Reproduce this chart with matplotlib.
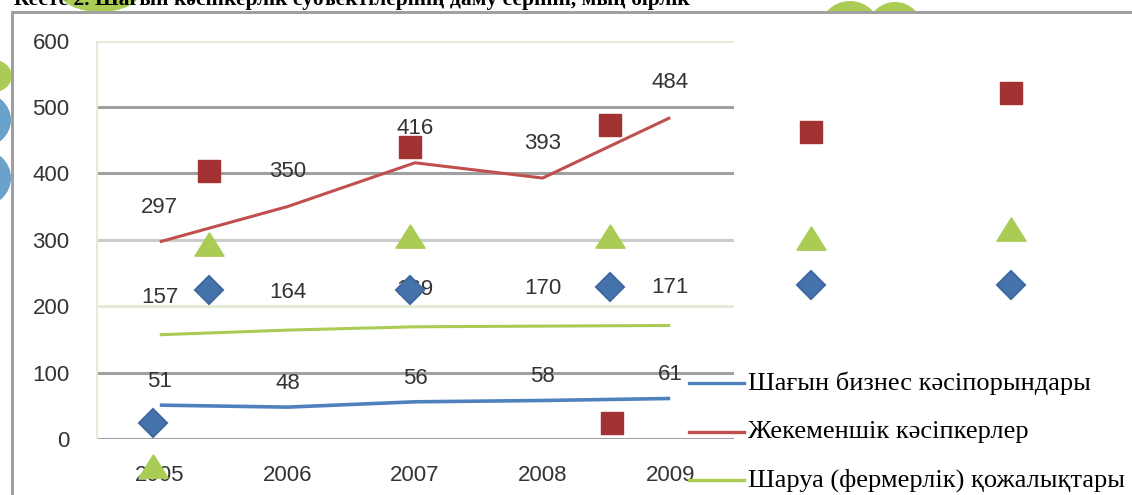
import matplotlib
matplotlib.use("Agg")
import matplotlib.pyplot as plt
from matplotlib.patches import Rectangle, Ellipse
from matplotlib.lines import Line2D

# ---------------- data ----------------
years = ["2005", "2006", "2007", "2008", "2009"]
small_business = [51, 48, 56, 58, 61]          # Шағын бизнес кәсіпорындары
private_entrepreneurs = [297, 350, 416, 393, 484]  # Жекеменшік кәсіпкерлер
farms = [157, 164, 169, 170, 171]              # Шаруа (фермерлік) қожалықтары

series_names = ["Шағын бизнес кәсіпорындары",
                "Жекеменшік кәсіпкерлер",
                "Шаруа (фермерлік) қожалықтары"]

y_ticks = [0, 100, 200, 300, 400, 500, 600]

# stray markers of an overlapping (second) chart layer
overlay_idx = [0, 1, 2, 3, 4]
overlay_squares = [404, 440, 473, 463, 521]
overlay_triangles = [294, 305, 305, 302, 317]
overlay_diamonds = [224, 224, 229, 232, 232]
# legend markers of that layer
overlay_leg_diamond = (-0.28, 24)
overlay_leg_square = (2.01, 24)
overlay_leg_triangle = (-0.28, -41)

title_text = "Кесте 2. Шағын кәсіпкерлік субъектілерінің даму серпіні, мың бірлік"

# ---------------- figure ----------------
W, H = 1132, 495
fig = plt.figure(figsize=(W / 100, H / 100), dpi=100)
fig.patch.set_facecolor("white")

def fx(x):
    return x / W

def fy(y):
    return 1 - y / H

RED = "#c0504d"
RED_M = "#a33232"
BLUE = "#4f81bd"
BLUE_M = "#4672ab"
GREEN = "#aacc55"
LBLUE = "#6aa2cc"
TXT = "#333333"

# --- page decorations visible outside the chart frame (clipped strips) ---
top_strip = fig.add_axes([0, fy(11), 1, 11 / H], zorder=0)
top_strip.set_xlim(0, W)
top_strip.set_ylim(11, 0)
top_strip.axis("off")
for (cx, cy, w, h) in [(100, -8, 80, 40), (850, 32, 62, 62), (895, 30, 56, 56)]:
    top_strip.add_patch(Ellipse((cx, cy), w, h, facecolor=GREEN, edgecolor="none"))
top_strip.text(14, 5, title_text, ha="left", va="baseline", clip_on=True,
               fontsize=15.5, fontweight="bold", family="Liberation Serif", color="black")

left_strip = fig.add_axes([0, 0, 11 / W, fy(11)], zorder=0)
left_strip.set_xlim(0, 11)
left_strip.set_ylim(H, 11)
left_strip.axis("off")
for (cx, cy, w, h, col) in [(-10, 76, 44, 34, GREEN),
                            (-20, 120, 62, 56, LBLUE),
                            (-20, 178, 62, 58, LBLUE)]:
    left_strip.add_patch(Ellipse((cx, cy), w, h, facecolor=col, edgecolor="none"))

# frame lines
frame = fig.add_axes([0, 0, 1, 1], zorder=1)
frame.set_xlim(0, W)
frame.set_ylim(H, 0)
frame.axis("off")
frame.patch.set_alpha(0)
frame.add_patch(Rectangle((11, 11), W, 3, facecolor="#a0a0a0", edgecolor="none"))
frame.add_patch(Rectangle((11, 11), 3, H, facecolor="#a0a0a0", edgecolor="none"))

# ---------------- main chart ----------------
left, right = 96, 734
top, bottom = 40.6, 439
ax = fig.add_axes([fx(left), fy(bottom), fx(right) - fx(left), fy(top) - fy(bottom)], zorder=2)
ax.patch.set_alpha(0)
x = list(range(len(years)))
ax.set_xlim(-0.5, len(years) - 0.5)
ax.set_ylim(0, 600)
for s in ax.spines.values():
    s.set_visible(False)

grid_colors = {0: "#a0a0a0", 100: "#a0a0a0", 200: "#e4ecd8", 300: "#cccccc",
               400: "#a0a0a0", 500: "#a0a0a0", 600: "#e4ecd8"}
for v in y_ticks:
    ax.axhline(v, color=grid_colors[v], lw=2.2, zorder=1)
ax.axvline(-0.5, color="#e4ecd8", lw=2.2, zorder=1)

ax.set_xticks(x)
ax.set_xticklabels(years)
ax.set_yticks(y_ticks)
ax.tick_params(length=0, labelsize=16, labelcolor=TXT)
ax.tick_params(axis="y", pad=19)
ax.tick_params(axis="x", pad=19)
for lab in ax.get_xticklabels() + ax.get_yticklabels():
    lab.set_family("Liberation Sans")

ax.plot(x, small_business, color=BLUE, lw=2.6, zorder=3, solid_capstyle="butt")
ax.plot(x, private_entrepreneurs, color=RED, lw=2.2, zorder=3, solid_capstyle="butt")
ax.plot(x, farms, color=GREEN, lw=2.2, zorder=3, solid_capstyle="butt")

for vals, off in ((small_business, 17), (private_entrepreneurs, 25), (farms, 27)):
    for xi, v in zip(x, vals):
        ax.annotate(str(v), (xi, v), xytext=(0, off), textcoords="offset points",
                    ha="center", va="center", fontsize=16, color=TXT,
                    family="Liberation Sans", zorder=4)

# ---------------- overlay marker layer ----------------
ov_origin, ov_step = 209, 200.5
ov = fig.add_axes([0, fy(bottom), 1, fy(top) - fy(bottom)], zorder=3)
ov.patch.set_alpha(0)
ov.axis("off")
ov.set_xlim(-ov_origin / ov_step, (W - ov_origin) / ov_step)
ov.set_ylim(0, 600)
tri = [(0, 0.8), (-1, -0.8), (1, -0.8), (0, 0.8)]
ov.plot(overlay_idx, overlay_squares, ls="none", marker="s", ms=16.5,
        mfc=RED_M, mec=RED_M, clip_on=False)
ov.plot(overlay_idx, overlay_triangles, ls="none", marker=tri, ms=21,
        mfc=GREEN, mec=GREEN, clip_on=False)
ov.plot(overlay_idx, overlay_diamonds, ls="none", marker="D", ms=14,
        mfc=BLUE_M, mec="#3e68a0", mew=1.5, clip_on=False)
ov.plot([overlay_leg_diamond[0]], [overlay_leg_diamond[1]], ls="none", marker="D",
        ms=14, mfc=BLUE_M, mec="#3e68a0", mew=1.5, clip_on=False)
ov.plot([overlay_leg_square[0]], [overlay_leg_square[1]], ls="none", marker="s",
        ms=16.5, mfc=RED_M, mec=RED_M, clip_on=False)
ov.plot([overlay_leg_triangle[0]], [overlay_leg_triangle[1]], ls="none", marker=tri,
        ms=21, mfc=GREEN, mec=GREEN, clip_on=False)

# ---------------- legend (main chart) ----------------
leg_y = [383, 432, 480]
leg_colors = [BLUE, RED, GREEN]
for yy, c, name in zip(leg_y, leg_colors, series_names):
    fig.add_artist(Line2D([fx(689), fx(744)], [fy(yy), fy(yy)], color=c, lw=2.4,
                          transform=fig.transFigure, zorder=5))
    fig.text(fx(748), fy(yy), name, ha="left", va="center", fontsize=19,
             family="Liberation Serif", color="black", zorder=5)

fig.savefig("out.png", dpi=100, facecolor="white")
